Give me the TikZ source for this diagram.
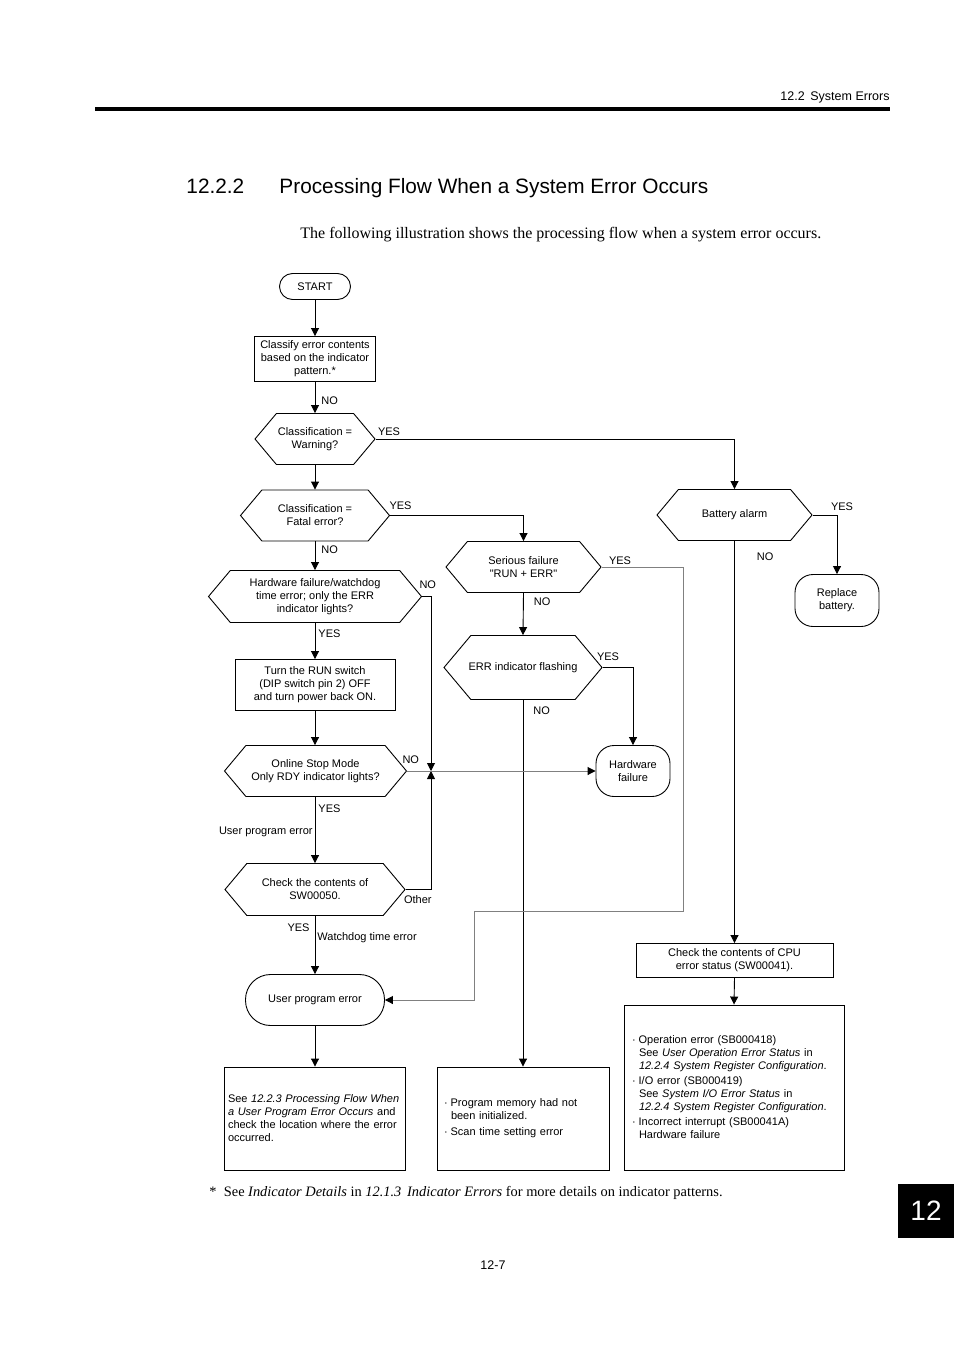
\documentclass[tikz,border=0pt]{standalone}
\usepackage{fontspec}
\setmainfont{Liberation Serif}
\newfontfamily\flowfont{Liberation Sans}
\usetikzlibrary{arrows.meta,positioning,shapes.symbols,shapes.misc}

\begin{document}
\begin{tikzpicture}
[x=1pt, y=-1pt, >={Triangle[length=8pt,width=8pt]}, line width=0.9pt,
every node/.style={font=\flowfont\fontsize{11}{13}\selectfont},
box/.style={draw, rectangle, align=center, inner sep=2pt},
decision/.style={draw, signal, signal to=east and west, signal pointer angle=100, align=center, inner sep=1pt},
terminal/.style={draw, rectangle, rounded corners=#1, align=center},
lbl/.style={inner sep=2pt},
faint/.style={draw=black!50, -{Triangle[length=8pt,width=8pt,black]}}
]
  \useasboundingbox (0,0) rectangle (954,1351);

  % page frame
  \node[anchor=base east, inner sep=0pt, font=\flowfont\fontsize{12.5}{15}\selectfont] (hdr) at (890,101) {12.2\hspace{0.45em}System Errors};
  \draw[line width=4pt] (95,109.5) -- (890,109.5);
  \node[anchor=base west, inner sep=0pt, font=\flowfont\fontsize{20.8}{25}\selectfont] (secno) at (186,193.5) {12.2.2};
  \node[anchor=base west, inner sep=0pt, font=\flowfont\fontsize{20.8}{25}\selectfont] (sectitle) at (279,193.5) {Processing Flow When a System Error Occurs};
  \node[anchor=base west, inner sep=0pt, font=\rmfamily\fontsize{16}{19}\selectfont] (intro) at (300,238) {The following illustration shows the processing flow when a system error occurs.};

  % main column
  \node[terminal=13pt, minimum width=71, minimum height=26] (start) at (315,286.5) {START};
  \node[box, minimum width=121, minimum height=45]   (classify) at (315,359) {Classify error contents\\based on the indicator\\pattern.*};
  \node[decision, minimum width=120, minimum height=51] (warning) at (315,439) {Classification =\\Warning?};
  \node[decision, minimum width=149, minimum height=51] (fatal)   at (315,515.5) {Classification =\\Fatal error?};
  \node[decision, minimum width=213, minimum height=52] (hwwdt)   at (315,596.5) {Hardware failure/watchdog\\time error; only the ERR\\indicator lights?};
  \node[box, minimum width=160, minimum height=51]   (turnrun) at (315,685) {Turn the RUN switch\\(DIP switch pin 2) OFF\\and turn power back ON.};
  \node[decision, minimum width=182, minimum height=51] (online)  at (315.5,771) {Online Stop Mode\\Only RDY indicator lights?};
  \node[decision, minimum width=180, minimum height=52] (chksw)   at (315,889.5) {Check the contents of\\SW00050.};
  \node[terminal=25pt, minimum width=139, minimum height=51] (upe) at (315,1000) {User program error};
  \node[box, minimum width=181, minimum height=103, text width=174, align=left] (seebox) at (315,1118.5)
    {See \textit{12.2.3 Processing Flow When}\\\textit{a User Program Error Occurs} and\\check the location where the error\\occurred.};

  % middle column
  \node[decision, minimum width=155, minimum height=51] (serious)  at (523.5,567) {Serious failure\\"RUN + ERR"};
  \node[decision, minimum width=158, minimum height=64, inner xsep=-3pt] (errflash) at (523,667.5) {ERR indicator flashing};
  \node[terminal=18pt, minimum width=74, minimum height=51] (hwfail) at (633,771) {Hardware\\failure};
  \node[box, minimum width=172, minimum height=103, text width=158, align=left] (progmem) at (523,1118.5)
    {·\hspace{3pt}Program memory had not\\\hspace*{7pt}been initialized.\\[3pt]·\hspace{3pt}Scan time setting error};

  % right column
  \node[decision, minimum width=155, minimum height=51] (battery) at (734.5,515) {Battery alarm};
  \node[terminal=18pt, minimum width=84, minimum height=52] (replace) at (837,600.5) {Replace\\battery.};
  \node[box, minimum width=197, minimum height=34] (chkcpu) at (734.5,960.5) {Check the contents of CPU\\error status (SW00041).};
  \node[box, minimum width=220, minimum height=165, text width=204, align=left] (cpulist) at (734,1087.5)
    {·\hspace{3pt}Operation error (SB000418)\\
     \hspace*{7pt}See \textit{User Operation Error Status} in\\
     \hspace*{7pt}\textit{12.2.4 System Register Configuration}.\\[2pt]
     ·\hspace{3pt}I/O error (SB000419)\\
     \hspace*{7pt}See \textit{System I/O Error Status} in\\
     \hspace*{7pt}\textit{12.2.4 System Register Configuration}.\\[2pt]
     ·\hspace{3pt}Incorrect interrupt (SB00041A)\\
     \hspace*{7pt}Hardware failure};

  \coordinate (jn) at (431,771);

  % connectors
  \path[->]
    (start.south)    edge (classify.north)
    (classify.south) edge node[lbl, right, xshift=4pt, yshift=-3pt] {NO} (warning.north)
    (warning.south)  edge (fatal.north)
    (fatal.south)    edge node[lbl, right, xshift=4pt, pos=0.3] {NO} (hwwdt.north)
    (hwwdt.south)    edge node[lbl, right, xshift=1pt, pos=0.3] {YES} (turnrun.north)
    (turnrun.south)  edge (turnrun.south |- online.north)
    (turnrun.south |- online.south) edge node[lbl, right, xshift=1pt, pos=0.18] {YES} node[lbl, left, pos=0.5, yshift=-2pt] {User program error} (chksw.north)
    (chksw.south)    edge node[lbl, left, pos=0.2, xshift=-3pt] {YES} node[lbl, right, pos=0.33, yshift=-3pt] {Watchdog time error} (upe.north)
    (upe.south)      edge (seebox.north)
    (serious.south)  edge node[lbl, right, pos=0.2, xshift=8pt] {NO} (errflash.north)
    (errflash.south) edge node[lbl, right, pos=0.03, xshift=8pt] {NO} (progmem.north)
    (battery.south)  edge node[lbl, right, pos=0.03, xshift=20pt, yshift=-4pt] {NO} (chkcpu.north)
    (chkcpu.south)   edge (cpulist.north)
    ;
  \draw[->] (warning.east) node[lbl, above right, yshift=1pt] {YES} -| (battery.north);
  \draw[->] (fatal.east) node[lbl, above right, xshift=-3pt, yshift=3pt] {YES} -| (serious.north);
  \draw[->] (hwwdt.east) node[lbl, above right, xshift=-5pt, yshift=5pt] {NO} -| (jn);
  \draw[->] (chksw.east) node[lbl, below right, xshift=-4pt, yshift=-4pt] {Other} -| (jn);
  \draw[faint] (online.east) node[lbl, above right, xshift=-7pt, yshift=5pt, black] {NO} -- (hwfail.west);
  \draw[->] (errflash.east) node[lbl, above right, xshift=-8pt, yshift=4pt] {YES} -| (hwfail.north);
  \draw[faint] (serious.east) node[lbl, above right, xshift=5pt, black] {YES} -| (683,911) -| (474,1000) -- (upe.east);
  \draw[->] (battery.east) -| node[lbl, above, xshift=5pt, yshift=2pt] {YES} (replace.north);

  % footnote, page number, tab
  \node[anchor=base west, inner sep=0pt, font=\rmfamily\fontsize{14.4}{17}\selectfont] (fnote) at (209,1196)
    {*\hspace{0.5em}See \textit{Indicator Details} in \textit{12.1.3\hspace{0.4em}Indicator Errors} for more details on indicator patterns.};
  \node[anchor=base, inner sep=0pt, font=\flowfont\fontsize{12.5}{15}\selectfont] (pageno) at (493,1269) {12-7};
  \fill (898,1184) rectangle (954,1238);
  \node[text=white, font=\flowfont\fontsize{28}{32}\selectfont] (tab) at (926,1211) {12};
\end{tikzpicture}
\end{document}
